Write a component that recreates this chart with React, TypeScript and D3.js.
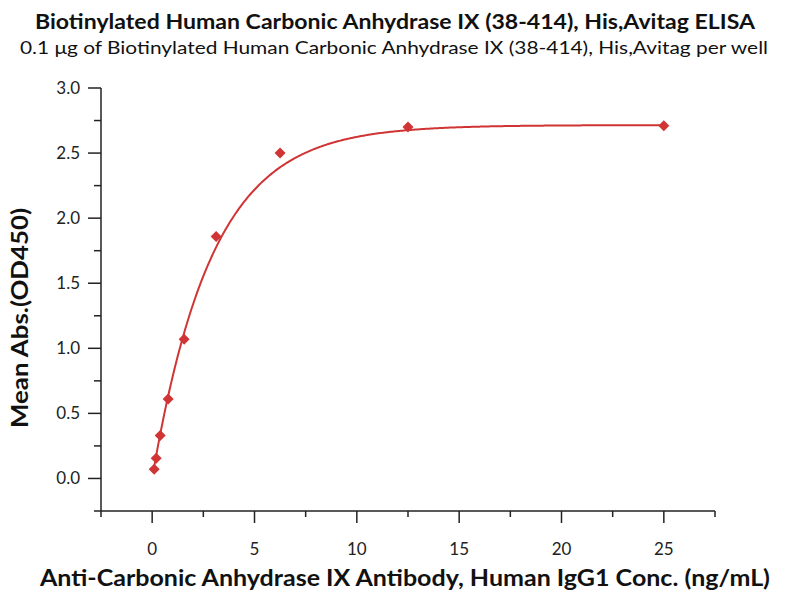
import React from "react";
import * as d3 from "d3";

const concentrations = [25, 12.5, 6.25, 3.125, 1.5625, 0.78125, 0.390625, 0.1953125, 0.09765625];
const meanAbs = [2.71, 2.70, 2.50, 1.86, 1.07, 0.61, 0.33, 0.155, 0.07];
const xTickValues = [0, 5, 10, 15, 20, 25];
const yTickValues = [0, 0.5, 1.0, 1.5, 2.0, 2.5, 3.0];
const FIT_TOP = 2.715;
const FIT_RATE = 0.34;

const W = 787;
const H = 594;
const margin = { left: 101, right: 72, top: 88, bottom: 83 };
const RED = "#d03434";
const FONT = "Lato, 'Open Sans', sans-serif";

export default function App() {
  const x = d3.scaleLinear().domain([-2.5, 27.5]).range([margin.left, W - margin.right]);
  const y = d3.scaleLinear().domain([-0.25, 3.0]).range([H - margin.bottom, margin.top]);
  const xMinor = d3.range(-2.5, 27.51, 2.5).filter((v) => !xTickValues.includes(v));
  const yMinor = d3.range(-0.25, 3.001, 0.25).filter((v) => !yTickValues.some((t) => Math.abs(t - v) < 1e-6));

  const xmin = d3.min(concentrations) as number;
  const xmax = d3.max(concentrations) as number;
  const fitPts = d3.range(0, 301).map((i) => {
    const xv = xmin + ((xmax - xmin) * i) / 300;
    return [xv, FIT_TOP * (1 - Math.exp(-FIT_RATE * xv))] as [number, number];
  });
  const line = d3.line<[number, number]>().x((d) => x(d[0])).y((d) => y(d[1])).curve(d3.curveMonotoneX);
  const y0 = y(-0.25);
  const x0 = x(-2.5);

  return (
    <svg width={W} height={H} style={{ position: "absolute", left: 0, top: 0, background: "#fff" }} fontFamily={FONT}>
      <rect width={W} height={H} fill="#fff" />
      <text x={395} y={29} textAnchor="middle" fontWeight="bold" fontSize={20} fill="#111" textLength={720} lengthAdjust="spacingAndGlyphs">
        Biotinylated Human Carbonic Anhydrase IX (38-414), His,Avitag ELISA
      </text>
      <text x={394} y={54} textAnchor="middle" fontSize={18} fill="#111" textLength={748} lengthAdjust="spacingAndGlyphs">
        0.1 μg of Biotinylated Human Carbonic Anhydrase IX (38-414), His,Avitag per well
      </text>

      {/* axes */}
      <line x1={x0} x2={x(27.5)} y1={y0} y2={y0} stroke="#222" strokeWidth={1.5} />
      <line x1={x0} x2={x0} y1={y0} y2={y(3.0)} stroke="#222" strokeWidth={1.5} />
      {xTickValues.map((t) => (
        <g key={"xt" + t}>
          <line x1={x(t)} x2={x(t)} y1={y0} y2={y0 + 12} stroke="#222" strokeWidth={1.5} />
          <text x={x(t)} y={y0 + 44} textAnchor="middle" fontSize={17} fill="#222">{t}</text>
        </g>
      ))}
      {xMinor.map((t) => (
        <line key={"xm" + t} x1={x(t)} x2={x(t)} y1={y0} y2={y0 + 6} stroke="#222" strokeWidth={1.5} />
      ))}
      {yTickValues.map((t) => (
        <g key={"yt" + t}>
          <line x1={x0} x2={x0 - 13} y1={y(t)} y2={y(t)} stroke="#222" strokeWidth={1.5} />
          <text x={x0 - 21} y={y(t) + 6} textAnchor="end" fontSize={17} fill="#222">{t.toFixed(1)}</text>
        </g>
      ))}
      {yMinor.map((t) => (
        <line key={"ym" + t} x1={x0} x2={x0 - 7} y1={y(t)} y2={y(t)} stroke="#222" strokeWidth={1.5} />
      ))}

      <text x={405} y={586} textAnchor="middle" fontWeight="bold" fontSize={22} fill="#111" textLength={730} lengthAdjust="spacingAndGlyphs">
        Anti-Carbonic Anhydrase IX Antibody, Human IgG1 Conc. (ng/mL)
      </text>
      <text transform={`translate(28, 318) rotate(-90)`} textAnchor="middle" fontWeight="bold" fontSize={22} fill="#111" textLength={220} lengthAdjust="spacingAndGlyphs">
        Mean Abs.(OD450)
      </text>

      <path d={line(fitPts) || ""} fill="none" stroke={RED} strokeWidth={2} />
      {concentrations.map((c, i) => {
        const cx = x(c);
        const cy = y(meanAbs[i]);
        const r = 5.5;
        return (
          <path key={"p" + i} d={`M${cx},${cy - r}L${cx + r},${cy}L${cx},${cy + r}L${cx - r},${cy}Z`} fill={RED} />
        );
      })}
    </svg>
  );
}
